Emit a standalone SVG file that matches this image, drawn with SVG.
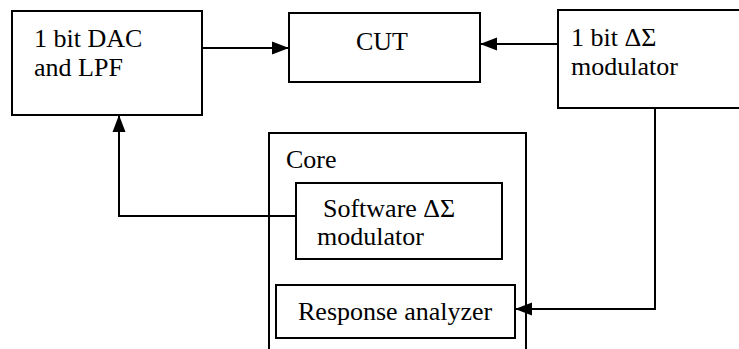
<svg xmlns="http://www.w3.org/2000/svg" width="739" height="349" viewBox="0 0 739 349">
<style>
.box{fill:#fff;stroke:#000;stroke-width:2}
.t{font-family:'Liberation Serif','Times New Roman',Times,serif;font-size:26px;fill:#000}
.c{fill:none;stroke:#000;stroke-width:2}
</style>
<defs>
<marker id="ah" markerUnits="userSpaceOnUse" markerWidth="18" markerHeight="14" refX="17" refY="7" orient="auto">
<path d="M0,0.5 L17,7 L0,13.5 z" fill="#000"/>
</marker>
</defs>
<rect width="739" height="349" fill="#fff"/>
<g id="core">
<rect class="box" x="269" y="133" width="257" height="230"/>
<text class="t" x="286" y="168">Core</text>
</g>
<g id="dac">
<rect class="box" x="12" y="11" width="190" height="104"/>
<text class="t" x="34" y="47">1 bit DAC</text>
<text class="t" x="34" y="76">and LPF</text>
</g>
<g id="cut">
<rect class="box" x="289" y="13" width="191" height="69"/>
<text class="t" x="382" y="50" text-anchor="middle">CUT</text>
</g>
<g id="mod">
<rect class="box" x="558" y="10" width="200" height="98"/>
<text class="t" x="571" y="46">1 bit ΔΣ</text>
<text class="t" x="571" y="75">modulator</text>
</g>
<g id="sw">
<rect class="box" x="296" y="183" width="206" height="76"/>
<text class="t" x="323" y="217">Software ΔΣ</text>
<text class="t" x="317" y="245">modulator</text>
</g>
<g id="resp">
<rect class="box" x="276" y="285" width="239" height="53"/>
<text class="t" x="298" y="320">Response analyzer</text>
</g>
<g id="connectors">
<line class="c" x1="202" y1="48" x2="289" y2="48" marker-end="url(#ah)"/>
<line class="c" x1="558" y1="44" x2="480" y2="44" marker-end="url(#ah)"/>
<polyline class="c" points="655,108 655,309 515,309" marker-end="url(#ah)"/>
<polyline class="c" points="296,216 119,216 119,115" marker-end="url(#ah)"/>
</g>
</svg>
